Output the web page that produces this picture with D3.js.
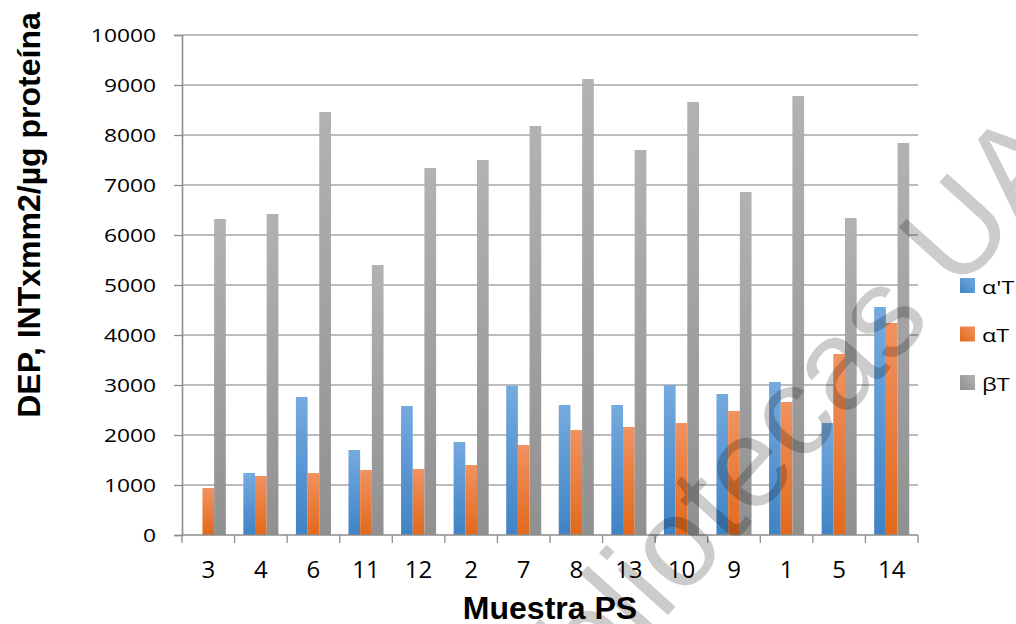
<!DOCTYPE html>
<html>
<head>
<meta charset="utf-8">
<script src="https://cdn.jsdelivr.net/npm/d3@7"></script>
<style>
  html, body { margin: 0; padding: 0; background: #fff; }
  svg { display: block; }
</style>
</head>
<body>
<svg id="chart" width="1016" height="624"></svg>
<script>
const categories = ["3","4","6","11","12","2","7","8","13","10","9","1","5","14"];
const seriesNames = ["α'T","αT","βT"];
const alphaPrimeT = [0,1240,2760,1700,2580,1860,2990,2600,2600,3000,2820,3060,2240,4560];
const alphaT      = [940,1180,1240,1300,1320,1400,1800,2100,2160,2240,2480,2660,3620,4240];
const betaT       = [6320,6420,8460,5400,7340,7500,8180,9120,7700,8660,6860,8780,6340,7840];
const yTicks = [0,1000,2000,3000,4000,5000,6000,7000,8000,9000,10000];
const seriesValues = [alphaPrimeT, alphaT, betaT];
const seriesColors = [["#75aadf","#3f83c5"],["#f19261","#e2691b"],["#b2b2b2","#909090"]];

const svg = d3.select("#chart");
const margin = {left:182, right:98, top:35, bottom:89};
const W = 1016, H = 624;
const x0 = d3.scaleBand().domain(categories).range([margin.left, W - margin.right]).padding(0);
const x1 = d3.scaleBand().domain(seriesNames).range([0, x0.bandwidth()]).paddingInner(0).paddingOuter(0.75);
const y = d3.scaleLinear().domain([0, 10000]).range([H - margin.bottom, margin.top]);

const defs = svg.append("defs");
seriesNames.forEach((s, i) => {
  const g = defs.append("linearGradient").attr("id", "grad" + i)
    .attr("x1", 0).attr("y1", 0).attr("x2", 0).attr("y2", 1);
  g.append("stop").attr("offset", "0%").attr("stop-color", seriesColors[i][0]);
  g.append("stop").attr("offset", "100%").attr("stop-color", seriesColors[i][1]);
  const gl = defs.append("linearGradient").attr("id", "lgrad" + i)
    .attr("x1", 1).attr("y1", 0).attr("x2", 0).attr("y2", 1);
  gl.append("stop").attr("offset", "0%").attr("stop-color", seriesColors[i][0]);
  gl.append("stop").attr("offset", "100%").attr("stop-color", seriesColors[i][1]);
});

// gridlines
svg.append("g").selectAll("line").data(yTicks.filter(d => d > 0)).join("line")
  .attr("x1", margin.left).attr("x2", W - margin.right)
  .attr("y1", d => y(d)).attr("y2", d => y(d))
  .attr("stroke", "#a6a6a6").attr("stroke-width", 1.6);

// bars
const data = categories.map((c, ci) => ({c, vals: seriesNames.map((s, si) => ({s, si, v: seriesValues[si][ci]}))}));
svg.append("g").selectAll("g").data(data).join("g")
  .attr("transform", d => `translate(${x0(d.c)},0)`)
  .selectAll("rect").data(d => d.vals.filter(v => v.v > 0)).join("rect")
  .attr("x", d => x1(d.s)).attr("width", x1.bandwidth())
  .attr("y", d => y(d.v)).attr("height", d => y(0) - y(d.v))
  .attr("fill", d => `url(#grad${d.si})`);

// y axis
const yAxis = d3.axisLeft(y).tickValues(yTicks).tickSize(8).tickFormat("");
const ya = svg.append("g").attr("transform", `translate(${margin.left},0)`).call(yAxis);
ya.select(".domain").attr("stroke", "#8c8c8c").attr("stroke-width", 1.6);
ya.selectAll(".tick line").attr("stroke", "#8c8c8c").attr("stroke-width", 1.3);

// y tick labels
svg.append("g").selectAll("g").data(yTicks).join("g")
  .attr("transform", d => `translate(156,${y(d)}) scale(1.2,1)`)
  .append("text").text(d => d)
  .attr("text-anchor", "end").attr("dy", "0.36em")
  .attr("font-family", "'Open Sans', sans-serif").attr("font-size", 19).attr("fill", "#000");

// x axis
const xa = svg.append("g").attr("transform", `translate(0,${y(0)})`);
xa.append("line").attr("x1", margin.left).attr("x2", W - margin.right)
  .attr("stroke", "#8c8c8c").attr("stroke-width", 1.6);
const boundaries = categories.map(c => x0(c)).concat([x0(categories[categories.length-1]) + x0.bandwidth()]);
xa.selectAll("line.tk").data(boundaries).join("line").attr("class","tk")
  .attr("x1", d => d).attr("x2", d => d).attr("y1", 0).attr("y2", 8)
  .attr("stroke", "#8c8c8c").attr("stroke-width", 1.3);
xa.selectAll("text").data(categories).join("text")
  .attr("x", d => x0(d) + x0.bandwidth()/2).attr("y", 43)
  .attr("text-anchor", "middle").text(d => d)
  .attr("font-family", "'Open Sans', sans-serif").attr("font-size", 24).attr("fill", "#000");

// axis titles
svg.append("text").text("Muestra PS")
  .attr("x", (margin.left + W - margin.right)/2).attr("y", 619)
  .attr("text-anchor", "middle")
  .attr("font-family", "'Liberation Sans', Arial, sans-serif").attr("font-weight", "bold")
  .attr("font-size", 32).attr("fill", "#000");
svg.append("text").text("DEP, INTxmm2/µg proteína")
  .attr("transform", "translate(40,215) rotate(-90)")
  .attr("text-anchor", "middle")
  .attr("font-family", "'Liberation Sans', Arial, sans-serif").attr("font-weight", "bold")
  .attr("font-size", 32).attr("fill", "#000");

// legend
const leg = svg.append("g").selectAll("g").data(seriesNames).join("g")
  .attr("transform", (d, i) => `translate(960,${278 + i*48.5})`);
leg.append("rect").attr("width", 15).attr("height", 15).attr("fill", (d, i) => `url(#lgrad${i})`);
leg.append("g").attr("transform", "translate(22,15.5) scale(1.3,1)")
  .append("text").text(d => d)
  .attr("font-family", "'Open Sans', sans-serif").attr("font-size", 18).attr("fill", "#000");

// watermark
const fs = 128;
svg.append("g").attr("transform", "translate(716,512) rotate(-48)")
  .append("text").text("Bibliotecas UAQ")
  .attr("x", -2.584*fs).attr("y", 0.26*fs)
  .attr("font-family", "'Liberation Sans', Arial, sans-serif")
  .attr("font-size", fs).attr("fill", "#000").attr("fill-opacity", 0.2);
</script>
</body>
</html>
